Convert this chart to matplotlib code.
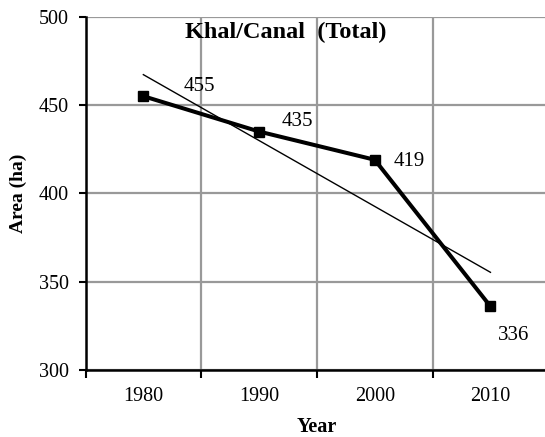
import matplotlib.pyplot as plt
import numpy as np

plt.rcParams['font.family'] = ['Liberation Serif', 'DejaVu Serif']

years = ['1980', '1990', '2000', '2010']
area = [455, 435, 419, 336]

# label offsets in pixels (dx, dy)
label_offsets = [(56, 10), (38, 10), (35, -2), (23, -29)]

x = np.arange(1, len(years) + 1)
slope, intercept = np.polyfit(x, area, 1)
trend = slope * x + intercept

W, H = 545, 437
left, bottom, top = 85.5, 370, 16.7
fig = plt.figure(figsize=(W / 100, H / 100), dpi=100)
ax = fig.add_axes([left / W, 1 - bottom / H, 1 - left / W, (bottom - top) / H])

# trend line
ax.plot(x, trend, color='black', linewidth=1.0, zorder=3)
# data line
ax.plot(x, area, color='black', linewidth=2.9, marker='s', markersize=7.2, zorder=4)

for xi, yi, (dx, dy) in zip(x, area, label_offsets):
    ax.annotate(str(yi), (xi, yi), xytext=(dx, dy), textcoords='offset pixels',
                ha='center', va='center', fontsize=15)

ax.set_xlim(0.5, 0.5 + (W - left) / 115.7)
ax.set_ylim(300, 500)
ax.set_yticks(np.arange(300, 501, 50))
ax.set_xticks(x)
ax.set_xticklabels(years, fontsize=14.5)
ax.tick_params(axis='x', which='major', length=0, pad=12)
ax.set_xticks(np.arange(0.5, 4.0, 1.0), minor=True)
ax.tick_params(axis='x', which='minor', length=5.5, width=1.5, direction='out')
ax.tick_params(axis='y', labelsize=14.5, length=5, width=1.5, direction='out', pad=7)

ax.grid(which='minor', axis='x', color='#999999', linewidth=1.6)
ax.grid(which='major', axis='y', color='#999999', linewidth=1.6)
ax.set_axisbelow(True)

for side in ['top', 'right']:
    ax.spines[side].set_visible(False)
for side in ['left', 'bottom']:
    ax.spines[side].set_linewidth(1.8)

# axis titles
fig.text(18.5 / W, 1 - 193.5 / H, 'Area (ha)', fontsize=14, fontweight='bold',
         rotation=90, ha='center', va='center')
fig.text(316.5 / W, 1 - 427 / H, 'Year', fontsize=14.5, fontweight='bold',
         ha='center', va='center')

ax.text((286 - left) / (W - left), (bottom - 32.7) / (bottom - top), 'Khal/Canal  (Total)',
        transform=ax.transAxes, ha='center', va='center', fontsize=17.5, fontweight='bold')

fig.savefig('out.png', dpi=100)
